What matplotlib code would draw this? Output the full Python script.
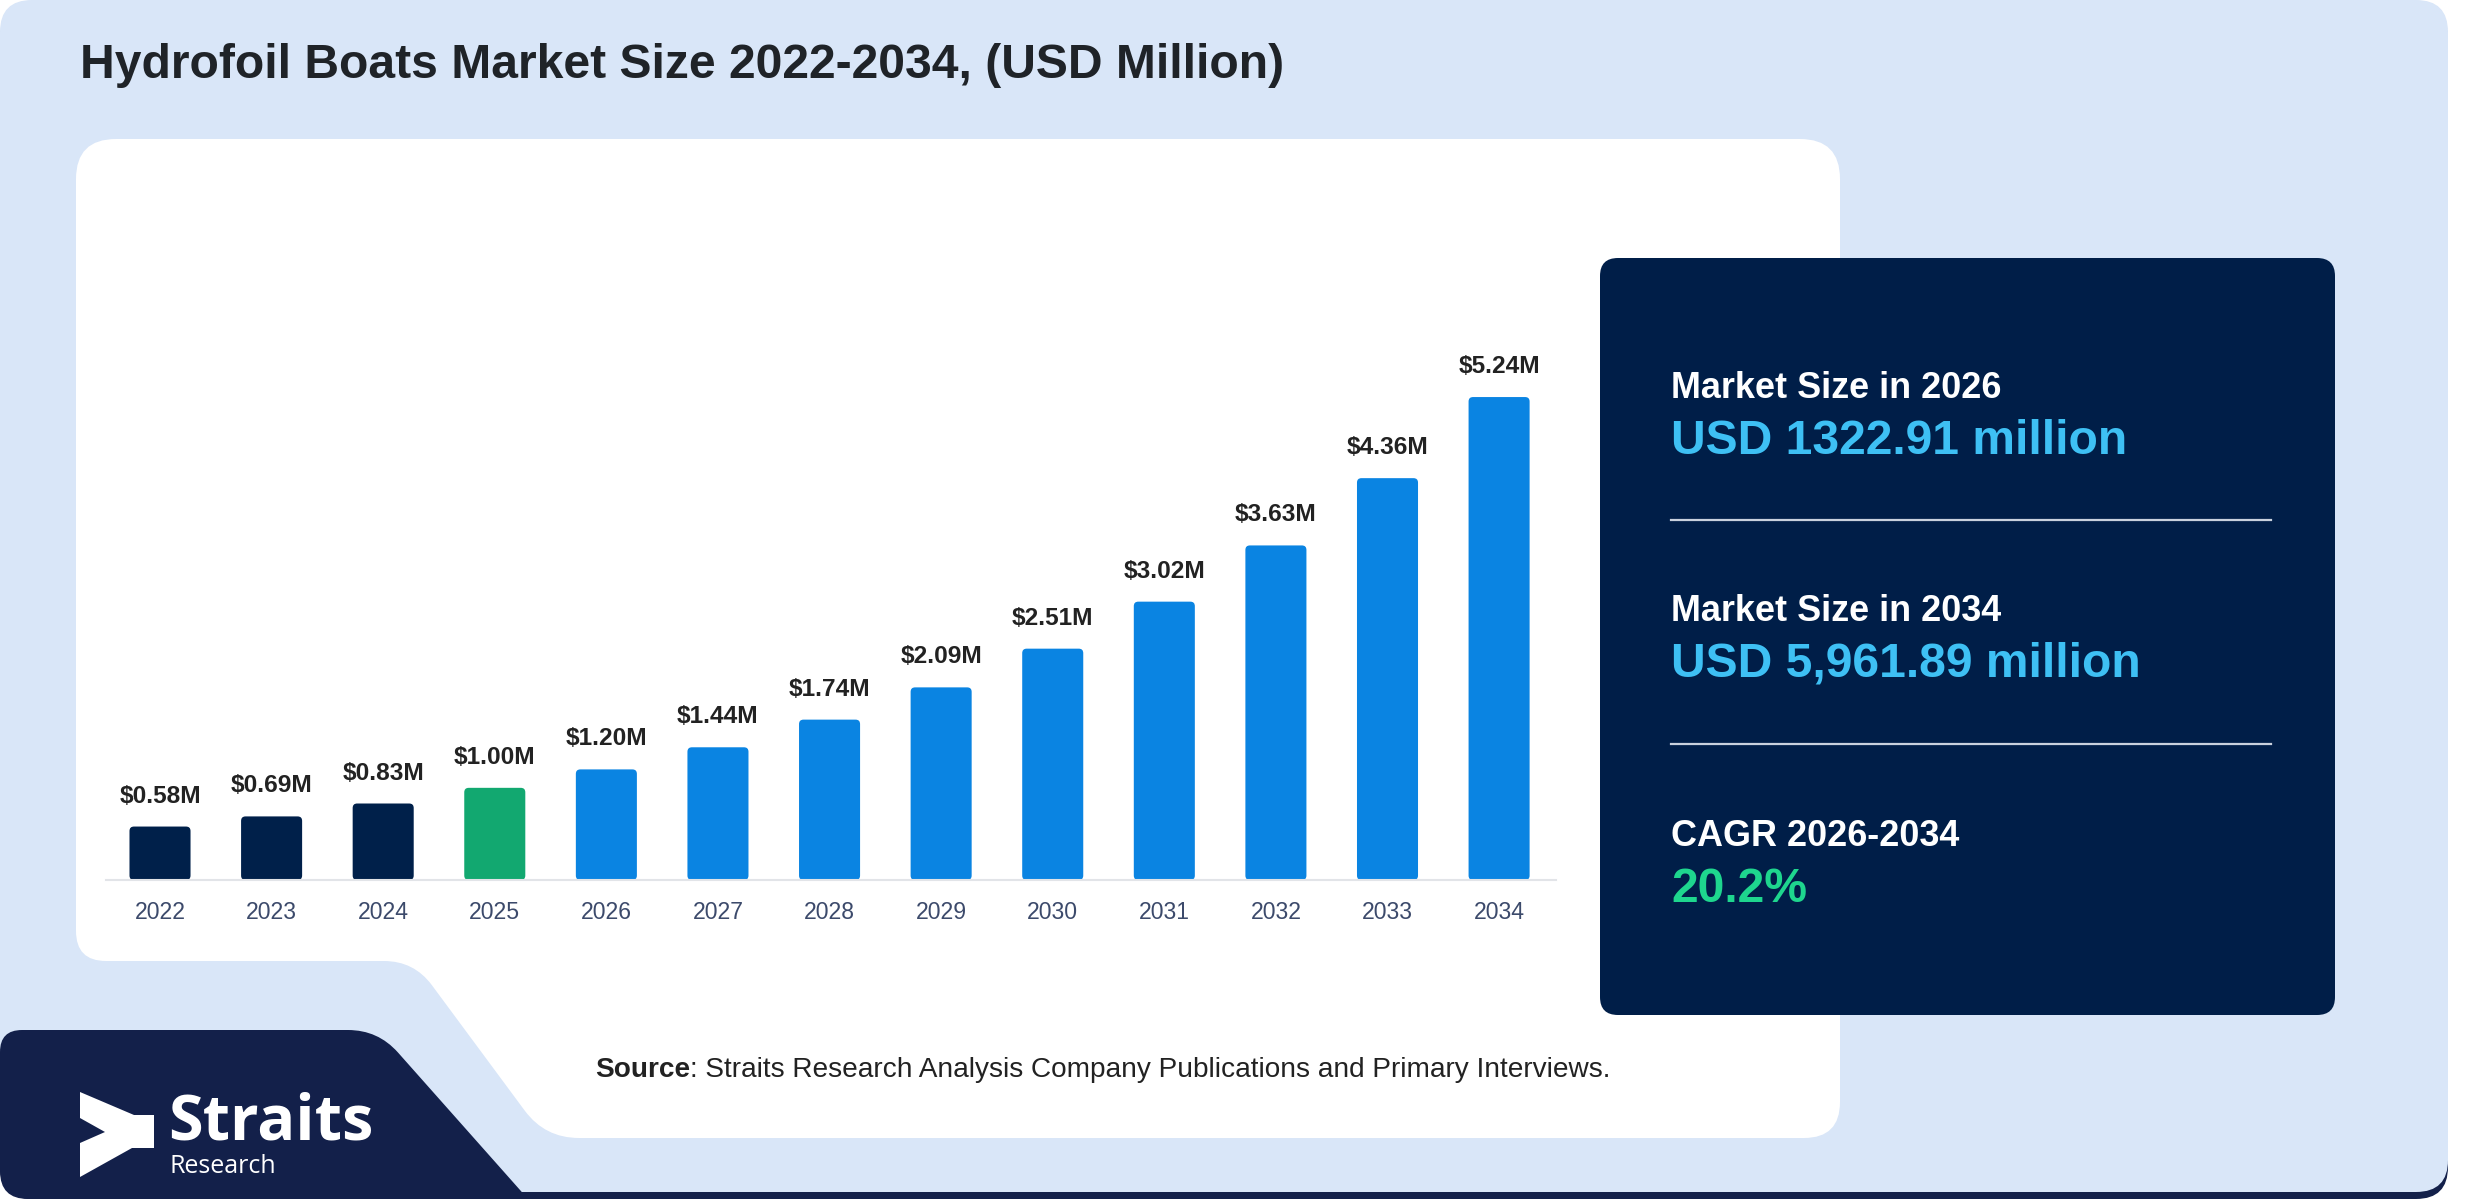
import numpy as np
import matplotlib
matplotlib.use("Agg")
import matplotlib.pyplot as plt
from matplotlib.path import Path
from matplotlib.patches import PathPatch, FancyBboxPatch, Polygon

plt.rcParams['font.family'] = ['Liberation Sans', 'DejaVu Sans']

# data
years = ['2022', '2023', '2024', '2025', '2026', '2027', '2028',
         '2029', '2030', '2031', '2032', '2033', '2034']
values = [0.58, 0.69, 0.83, 1.00, 1.20, 1.44, 1.74, 2.09, 2.51, 3.02, 3.63, 4.36, 5.24]
bar_colors = ['#00204A'] * 3 + ['#12A870'] + ['#0A84E2'] * 9

title = 'Hydrofoil Boats Market Size 2022-2034, (USD Million)'
stat_titles = ['Market Size in 2026', 'Market Size in 2034', 'CAGR 2026-2034']
stat_values = ['USD 1322.91 million', 'USD 5,961.89 million', '20.2%']
stat_colors = ['#3EC0F4', '#3EC0F4', '#1ED68E']
source_rest = ': Straits Research Analysis Company Publications and Primary Interviews.'

W, H = 2480, 1200
PX = 0.72  # pixels -> points at dpi 100


def rounded_path(pts, radii):
    verts, codes = [], []
    n = len(pts)
    for i in range(n):
        p0, p1, p2 = np.array(pts[i - 1], float), np.array(pts[i], float), np.array(pts[(i + 1) % n], float)
        r = radii[i]
        d1 = (p0 - p1) / np.linalg.norm(p0 - p1)
        d2 = (p2 - p1) / np.linalg.norm(p2 - p1)
        verts.append(p1 + d1 * r)
        codes.append(Path.MOVETO if i == 0 else Path.LINETO)
        verts += [p1, p1 + d2 * r]
        codes += [Path.CURVE3, Path.CURVE3]
    verts.append(verts[0])
    codes.append(Path.CLOSEPOLY)
    return Path(verts, codes)


fig = plt.figure(figsize=(W / 100, H / 100), dpi=100, facecolor='white')
bg = fig.add_axes([0, 0, 1, 1])
bg.set_xlim(0, W)
bg.set_ylim(H, 0)
bg.axis('off')

# outer card with navy shadow
bg.add_patch(PathPatch(rounded_path([(0, 8), (2448, 8), (2448, 1199), (0, 1199)], [32] * 4),
                       fc='#13204A', ec='none'))
bg.add_patch(PathPatch(rounded_path([(0, 0), (2448, 0), (2448, 1192), (0, 1192)], [32] * 4),
                       fc='#D9E6F8', ec='none'))
# navy corner with logo
bg.add_patch(PathPatch(rounded_path([(0, 1030), (378, 1030), (528, 1199), (0, 1199)], [22, 30, 10, 28]),
                       fc='#13204A', ec='none'))
# white chart panel
bg.add_patch(PathPatch(rounded_path([(76, 139), (1840, 139), (1840, 1138), (545, 1138),
                                     (414, 961), (76, 961)], [40, 40, 36, 34, 30, 30]),
                       fc='white', ec='none'))
# stats card
bg.add_patch(FancyBboxPatch((1600, 258), 735, 757, boxstyle='round,pad=0,rounding_size=18',
                            fc='#001E48', ec='none'))

bg.text(80, 78, title, fontsize=48 * PX, fontweight='bold', color='#1F2328', va='baseline')

# stats text
base = [398, 621, 846]
for i in range(3):
    bg.text(1671, base[i], stat_titles[i], fontsize=36 * PX, fontweight='bold',
            color='white', va='baseline')
    bg.text(1671, base[i] + 56, stat_values[i], fontsize=48 * PX, fontweight='bold',
            color=stat_colors[i], va='baseline')
for y in [520, 744]:
    bg.plot([1671, 2271], [y, y], color='#C9D1DE', lw=1.6)

# source
src = bg.text(595, 1077, 'Source', fontsize=28 * PX, fontweight='bold', color='#222222', va='baseline')
bg.annotate(source_rest, xy=(1, 0), xycoords=src, ha='left', va='bottom',
            fontsize=28 * PX, color='#222222')

# logo
bg.add_patch(Polygon([(80, 1092), (134, 1115), (154, 1115), (154, 1148), (132, 1148),
                      (80, 1177), (80, 1143), (105, 1132), (80, 1118)], closed=True,
                     fc='white', ec='none'))
bg.text(168, 1140, 'Straits', family='Open Sans', fontweight='bold', fontsize=63 * PX,
        color='white', va='baseline')
bg.text(170, 1173, 'Research', family='Open Sans', fontsize=25 * PX,
        color='white', va='baseline')

# bar chart
ax = fig.add_axes([106 / W, 320 / H, 1450 / W, 553 / H])
ax.set_facecolor('none')
ax.set_xlim(-0.484, 12.51)
ax.set_ylim(0, 6)
x = np.arange(len(years))
bars = ax.bar(x, values, width=0.547, color=bar_colors)
for b, c in zip(bars, bar_colors):
    bx, bw, bh = b.get_x(), b.get_width(), b.get_height()
    b.remove()
    ax.add_patch(FancyBboxPatch((bx, 0), bw, bh, boxstyle='round,pad=0,rounding_size=0.04',
                                mutation_aspect=1.21, fc=c, ec='none', zorder=2))
for i, v in enumerate(values):
    ax.annotate(f'${v:.2f}M', xy=(i, v), xytext=(0, 24 * PX), textcoords='offset points',
                ha='center', va='baseline', fontsize=24.5 * PX, fontweight='bold', color='#222222')

for s in ['top', 'right', 'left']:
    ax.spines[s].set_visible(False)
ax.spines['bottom'].set_color('#E2E4E8')
ax.spines['bottom'].set_linewidth(1.5)
ax.set_yticks([])
ax.set_xticks(x, years)
ax.tick_params(axis='x', length=0, pad=15, labelsize=23 * PX, labelcolor='#3C4A6B')

fig.savefig('out.png', dpi=100, facecolor='white')
